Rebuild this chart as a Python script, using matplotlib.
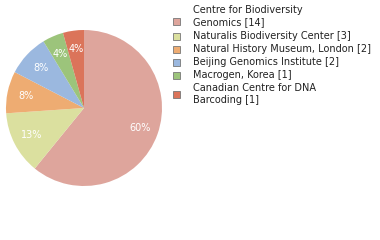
import matplotlib
matplotlib.use("Agg")
import matplotlib.pyplot as plt
from matplotlib.patches import Rectangle

labels = ["Centre for Biodiversity\nGenomics [14]", "Naturalis Biodiversity Center [3]",
          "Natural History Museum, London [2]", "Beijing Genomics Institute [2]",
          "Macrogen, Korea [1]", "Canadian Centre for DNA\nBarcoding [1]"]
counts = [14, 3, 2, 2, 1, 1]
colors = ["#dea59c", "#dbe09f", "#eeac72", "#9bb8df", "#9cc47b", "#db745a"]

fig = plt.figure(figsize=(3.8, 2.4), dpi=100)
ax = fig.add_axes([6/380, 54/240, 156/380, 156/240])
wedges, texts, autotexts = ax.pie(
    counts, colors=colors, startangle=90, counterclock=False,
    autopct=lambda p: "%d%%" % int(p + 1e-9), pctdistance=0.76,
    textprops=dict(color="white", fontsize=7, family="DejaVu Sans"),
    wedgeprops=dict(linewidth=0))
ax.set_xlim(-1, 1)
ax.set_ylim(-1, 1)
ax.set_aspect("equal")

# legend drawn manually
ys_text = [[10, 22], [36], [49], [62], [75], [88, 100]]
ys_box = [21.5, 36, 49, 62, 75, 94]
for lab, col, yt, yb in zip(labels, colors, ys_text, ys_box):
    for i, line in enumerate(lab.split("\n")):
        fig.text(193/380, 1 - yt[i]/240, line, fontsize=7, family="DejaVu Sans",
                 color="#222222", va="center", ha="left")
    fig.patches.append(Rectangle((173/380, 1 - (yb + 3.5)/240), 7/380, 7/240,
                                 transform=fig.transFigure, facecolor=col,
                                 edgecolor="#777777", linewidth=0.6))
fig.savefig("out.png", dpi=100)
